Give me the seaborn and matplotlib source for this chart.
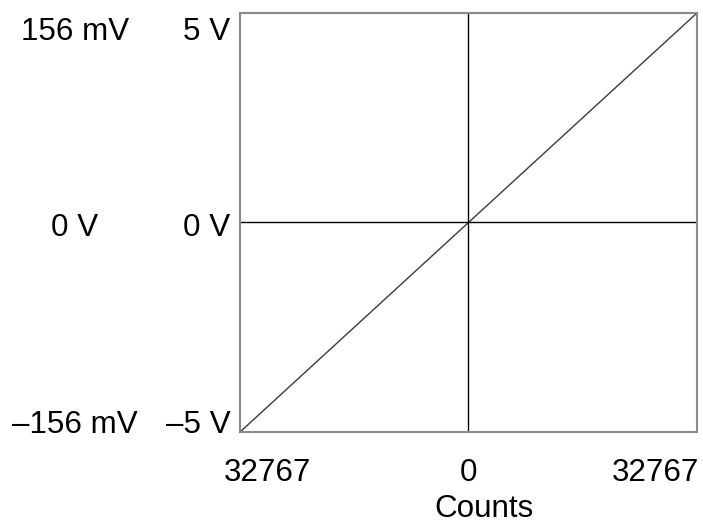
import matplotlib
matplotlib.use("Agg")
import matplotlib.pyplot as plt
import matplotlib.transforms as mtransforms
import pandas as pd
import seaborn as sns

# Transfer line: counts vs. voltage.
counts = [-32768, 0, 32767]
volts = [-5, 0, 5]

count_ticks = [-32768, 0, 32767]
count_labels = ["32767", "0", "32767"]
volt_ticks = [-5, 0, 5]
volt_labels = ["\u20135 V", "0 V", "5 V"]
mv_labels = ["\u2013156 mV", "0 V", "156 mV"]

sns.set_style("white")
plt.rcParams["font.family"] = ["Liberation Sans", "DejaVu Sans"]
plt.rcParams["text.color"] = "#000000"
plt.rcParams["axes.labelcolor"] = "#000000"
plt.rcParams["xtick.color"] = "#000000"
plt.rcParams["ytick.color"] = "#000000"

df = pd.DataFrame({"counts": counts, "volts": volts})

fig = plt.figure(figsize=(7.03, 5.28), dpi=100)
ax = fig.add_axes([0.3414, 0.1818, 0.650, 0.7936])

sns.lineplot(data=df, x="counts", y="volts", color="#3a3a3a", linewidth=1.0, ax=ax)
ax.axvline(0, color="#000000", linewidth=1.0)
ax.axhline(0, color="#000000", linewidth=1.0)

ax.set_xlim(counts[0], counts[-1])
ax.set_ylim(volts[0], volts[-1])

for spine in ax.spines.values():
    spine.set_color("#8a8a8a")
    spine.set_linewidth(1.5)

fs = 22.6
ax.set_xticks(count_ticks)
ax.set_xticklabels(count_labels, fontsize=fs)
ax.set_yticks(volt_ticks)
ax.set_yticklabels(volt_labels, fontsize=fs)
ax.tick_params(axis="x", length=0, pad=19, labelcolor="#000000")
ax.tick_params(axis="y", length=0, pad=7, labelcolor="#000000")


def nudge(labels, dxs, dys):
    for lab, dx, dy in zip(labels, dxs, dys):
        off = mtransforms.ScaledTranslation(dx / 100.0, dy / 100.0, fig.dpi_scale_trans)
        lab.set_transform(lab.get_transform() + off)


# Outer count labels sit inward, outer volt labels sit inside the box rows.
nudge(ax.get_xticklabels(), [27, 0, -41], [0, 0, 0])
y_shift = [11, -2, -16]
nudge(ax.get_yticklabels(), [0, 0, 0], y_shift)

ax.set_xlabel("Counts", fontsize=fs, color="#000000")
ax.xaxis.set_label_coords(0.534, -0.148)
ax.set_ylabel("")

# Second column of labels in millivolts.
sec = ax.secondary_yaxis(-0.362)
sec.set_yticks(volt_ticks)
sec.set_yticklabels(mv_labels, fontsize=fs)
sec.tick_params(length=0, pad=0, labelcolor="#000000")
sec.spines["left"].set_visible(False)
plt.setp(sec.get_yticklabels(), ha="center")
nudge(sec.get_yticklabels(), [0, 0, 0], y_shift)

fig.savefig("out.png", dpi=100)
